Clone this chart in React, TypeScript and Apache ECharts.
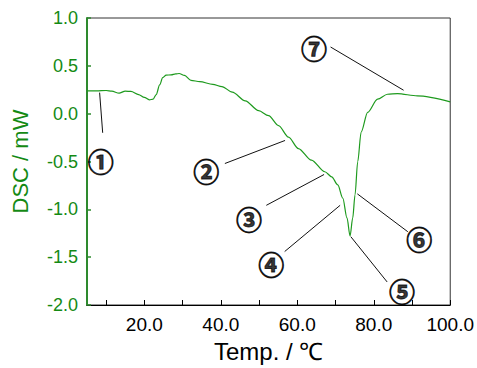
import React, { useEffect, useRef } from "react";
import * as echarts from "echarts";

const temps = [5.0, 7.5, 10.0, 11.5, 13.4, 15.0, 16.5, 18.5, 20.0, 21.3, 22.3, 23.1, 24.0, 24.8, 25.7, 27.0, 28.2, 29.1, 30.5, 32.2, 34.5, 37.9, 40.3, 43.0, 46.4, 49.9, 52.5, 55.1, 57.7, 60.3, 63.7, 67.2, 69.0, 70.6, 71.9, 73.0, 73.8, 74.5, 75.1, 75.8, 76.7, 78.4, 81.0, 83.6, 86.2, 91.4, 100.0];
const dsc = [0.238, 0.238, 0.242, 0.235, 0.214, 0.236, 0.232, 0.2, 0.17, 0.145, 0.152, 0.2, 0.3, 0.376, 0.403, 0.405, 0.415, 0.42, 0.4, 0.348, 0.335, 0.307, 0.283, 0.225, 0.134, 0.031, -0.021, -0.124, -0.245, -0.365, -0.486, -0.607, -0.66, -0.745, -0.883, -1.09, -1.279, -1.09, -0.849, -0.503, -0.193, 0.014, 0.152, 0.203, 0.21, 0.186, 0.124];

const xTickLabels = ["20.0", "40.0", "60.0", "80.0", "100.0"];
const yTickLabels = ["-2.0", "-1.5", "-1.0", "-0.5", "0.0", "0.5", "1.0"];

const markerTexts = ["①", "②", "③", "④", "⑤", "⑥", "⑦"];
const markerX = [8.6, 36.2, 47.4, 53.2, 87.4, 91.9, 64.4];
const markerY = [-0.487, -0.596, -1.097, -1.562, -1.848, -1.304, 0.687];
const leaderFromX = [8.3, 56.8, 67.0, 71.2, 74.0, 75.7, 87.8];
const leaderFromY = [0.22, -0.28, -0.636, -0.958, -1.286, -0.838, 0.245];
const leaderToX = [9.1, 41.06, 51.9, 56.7, 83.5, 88.9, 68.7];
const leaderToY = [-0.2, -0.521, -0.958, -1.441, -1.759, -1.234, 0.697];

const GREEN = "#148a14";

export default function App() {
  const ref = useRef<HTMLDivElement>(null);
  useEffect(() => {
    document.body.style.margin = "0";
    if (!ref.current) return;
    const chart = echarts.init(ref.current, null, { renderer: "svg" });
    const curve = temps.map((t, i) => [t, dsc[i]]);
    const markers = markerTexts.map((m, i) => ({ value: [markerX[i], markerY[i]], name: m }));
    const leaders = markerTexts.map((_, i) => [
      { coord: [leaderFromX[i], leaderFromY[i]] },
      { coord: [leaderToX[i], leaderToY[i]] },
    ]);
    chart.setOption({
      animation: false,
      grid: {
        left: 87,
        top: 18,
        right: 24,
        bottom: 60,
        show: true,
        borderColor: "#333",
        borderWidth: 1,
        backgroundColor: "transparent",
      },
      xAxis: {
        type: "value",
        min: 5,
        max: 100,
        splitNumber: 10,
        name: "Temp. / ℃",
        nameLocation: "middle",
        nameGap: 34,
        nameTextStyle: { color: "#000", fontSize: 24, fontFamily: "Liberation Sans, Arial, sans-serif" },
        axisLine: { show: true, onZero: false, lineStyle: { color: "#000", width: 1 } },
        axisTick: { show: true, inside: true, length: 5, lineStyle: { color: "#000" } },
        splitLine: { show: false },
        axisLabel: {
          color: "#000",
          fontSize: 19,
          margin: 10,
          fontFamily: "Liberation Sans, Arial, sans-serif",
          showMinLabel: false,
          formatter: (v: number) => {
            const s = v.toFixed(1);
            return xTickLabels.includes(s) ? s : "";
          },
        },
      },
      yAxis: {
        type: "value",
        min: -2,
        max: 1,
        interval: 0.5,
        name: "DSC / mW",
        nameLocation: "middle",
        nameGap: 56,
        nameTextStyle: { color: GREEN, fontSize: 22, fontFamily: "Liberation Sans, Arial, sans-serif" },
        axisLine: { show: true, onZero: false, lineStyle: { color: "#2e8a2e", width: 2 } },
        axisTick: { show: true, inside: true, length: 4, lineStyle: { color: "#2e8a2e", width: 1.5 } },
        splitLine: { show: false },
        axisLabel: {
          color: GREEN,
          fontSize: 18,
          margin: 9,
          fontFamily: "Liberation Sans, Arial, sans-serif",
          formatter: (v: number) => {
            const s = v.toFixed(1);
            return yTickLabels.includes(s) ? s : "";
          },
        },
      },
      series: [
        {
          type: "line",
          data: curve,
          showSymbol: false,
          smooth: 0.3,
          smoothMonotone: "x",
          lineStyle: { color: "#1e9a1e", width: 1.2 },
          markLine: {
            silent: true,
            symbol: ["none", "none"],
            label: { show: false },
            lineStyle: { color: "#111", width: 1, type: "solid" },
            data: leaders,
          },
          z: 3,
        },
        {
          type: "scatter",
          data: markers,
          symbolSize: 1,
          itemStyle: { color: "transparent" },
          label: {
            show: true,
            position: "inside",
            formatter: (p: any) => p.name,
            color: "#000",
            fontSize: 26,
            fontWeight: "bold",
            fontFamily: "Noto Sans CJK JP",
            textBorderColor: "#000",
            textBorderWidth: 0.9,
          },
          z: 4,
        },
      ],
    });
    return () => chart.dispose();
  }, []);
  return <div ref={ref} style={{ width: 477, height: 368 }} />;
}
